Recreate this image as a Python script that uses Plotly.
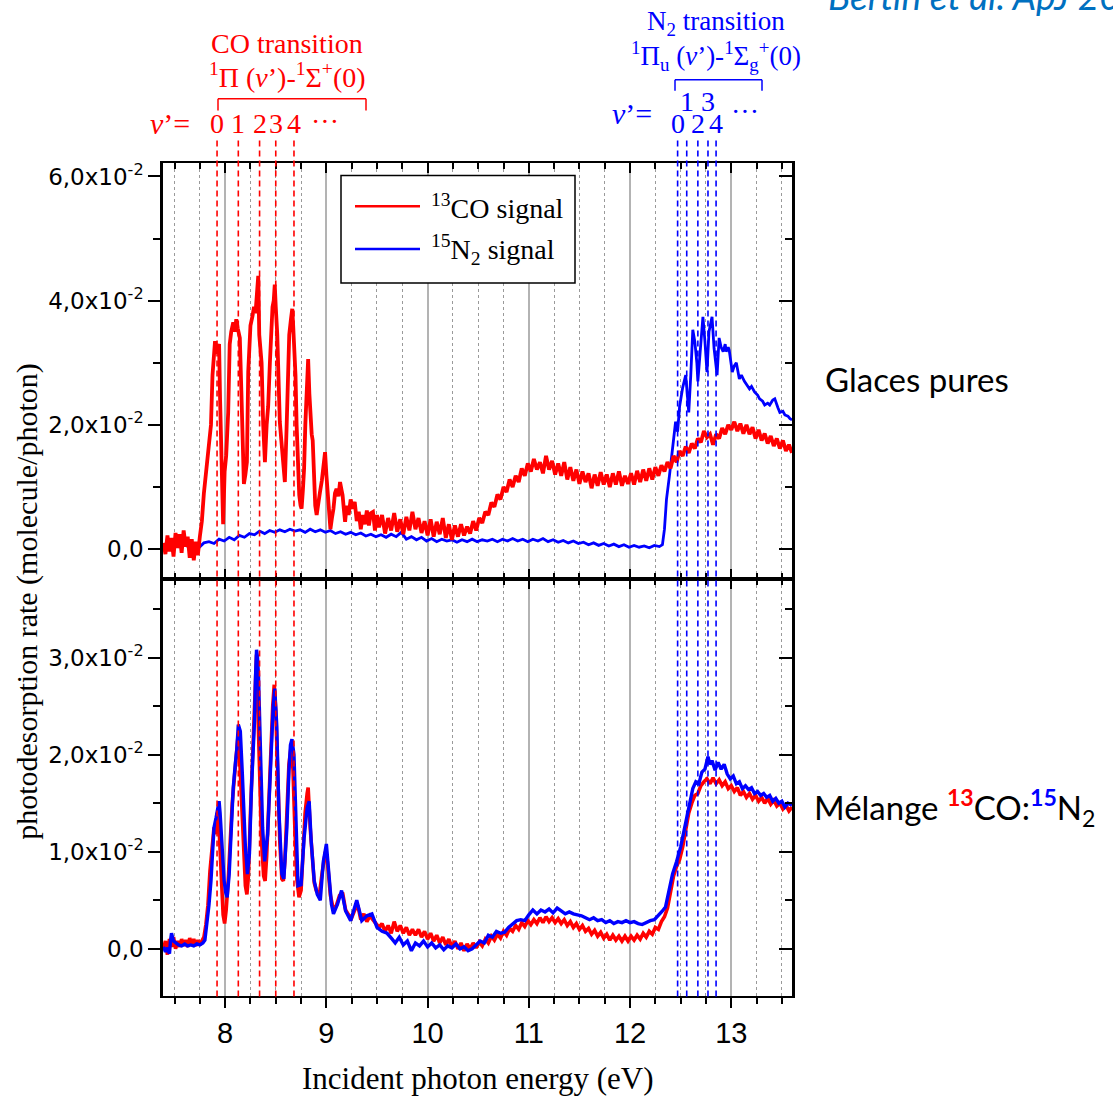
import plotly.graph_objects as go

# ---------------- data: photodesorption rate (molecule/photon) vs photon energy (eV) ----------------
# pure ices, 13CO signal
pure_co = [
    (7.39, 0.0010), (7.41, -0.0008), (7.43, 0.0022), (7.45, -0.0004), (7.47, 0.0018), (7.49, -0.0012),
    (7.51, 0.0026), (7.53, 0.0002), (7.55, 0.0024), (7.57, -0.0006), (7.59, 0.0030), (7.61, 0.0004),
    (7.63, 0.0020), (7.65, -0.0014), (7.67, 0.0016), (7.69, -0.0018), (7.71, 0.0012), (7.73, -0.0010),
    (7.75, 0.0020), (7.77, 0.0045), (7.79, 0.0090), (7.81, 0.0120), (7.83, 0.0150), (7.845, 0.0175),
    (7.86, 0.0200), (7.875, 0.0280), (7.89, 0.0320), (7.90, 0.0335), (7.91, 0.0315), (7.925, 0.0325),
    (7.94, 0.0330), (7.95, 0.0240), (7.965, 0.0100), (7.98, 0.0040), (7.995, 0.0125), (8.01, 0.0150),
    (8.03, 0.0220), (8.045, 0.0330), (8.06, 0.0350), (8.08, 0.0365), (8.095, 0.0350), (8.11, 0.0370),
    (8.125, 0.0355), (8.145, 0.0340), (8.16, 0.0255), (8.175, 0.0150), (8.185, 0.0105), (8.20, 0.0120),
    (8.215, 0.0140), (8.228, 0.0285), (8.25, 0.0360), (8.27, 0.0375), (8.285, 0.0390), (8.30, 0.0380),
    (8.315, 0.0410), (8.327, 0.0440), (8.337, 0.0345), (8.35, 0.0310), (8.36, 0.0300), (8.376, 0.0200),
    (8.385, 0.0150), (8.393, 0.0140), (8.41, 0.0200), (8.425, 0.0230), (8.442, 0.0300), (8.455, 0.0350),
    (8.468, 0.0390), (8.48, 0.0400), (8.49, 0.0426), (8.50, 0.0390), (8.515, 0.0345), (8.53, 0.0260),
    (8.54, 0.0205), (8.555, 0.0175), (8.568, 0.0150), (8.58, 0.0120), (8.59, 0.0108), (8.607, 0.0195),
    (8.62, 0.0280), (8.633, 0.0345), (8.65, 0.0370), (8.663, 0.0387), (8.672, 0.0360), (8.683, 0.0330),
    (8.695, 0.0280), (8.706, 0.0200), (8.72, 0.0120), (8.732, 0.0087), (8.745, 0.0070), (8.755, 0.0065),
    (8.768, 0.0095), (8.78, 0.0130), (8.792, 0.0200), (8.805, 0.0258), (8.82, 0.0306), (8.832, 0.0250),
    (8.845, 0.0200), (8.855, 0.0185), (8.865, 0.0175), (8.88, 0.0100), (8.89, 0.0070), (8.904, 0.0055),
    (8.92, 0.0080), (8.937, 0.0092), (8.955, 0.0110), (8.97, 0.0135), (8.987, 0.0156), (9.00, 0.0120),
    (9.01, 0.0092), (9.025, 0.0060), (9.04, 0.0032), (9.055, 0.0050), (9.07, 0.0065), (9.085, 0.0090),
    (9.10, 0.0097), (9.12, 0.0085), (9.135, 0.0108), (9.15, 0.0095), (9.16, 0.0087), (9.175, 0.0060),
    (9.185, 0.0044), (9.20, 0.0070), (9.22, 0.0055), (9.24, 0.0080), (9.26, 0.0065), (9.28, 0.0076),
    (9.30, 0.0045), (9.32, 0.0060), (9.34, 0.0032), (9.36, 0.0055), (9.38, 0.0040), (9.40, 0.0062),
    (9.42, 0.0038), (9.44, 0.0058), (9.46, 0.0060), (9.48, 0.0030), (9.50, 0.0055), (9.52, 0.0035),
    (9.55, 0.0055), (9.58, 0.0025), (9.61, 0.0050), (9.64, 0.0030), (9.67, 0.0058), (9.70, 0.0028),
    (9.73, 0.0048), (9.76, 0.0024), (9.79, 0.0052), (9.82, 0.0030), (9.85, 0.0060), (9.88, 0.0032),
    (9.91, 0.0050), (9.94, 0.0026), (9.97, 0.0045), (10.00, 0.0022), (10.03, 0.0048), (10.06, 0.0020),
    (10.09, 0.0044), (10.12, 0.0024), (10.15, 0.0050), (10.18, 0.0018), (10.21, 0.0040), (10.24, 0.0015),
    (10.27, 0.0038), (10.30, 0.0020), (10.33, 0.0040), (10.36, 0.0022), (10.39, 0.0036), (10.42, 0.0025),
    (10.45, 0.0045), (10.48, 0.0030), (10.51, 0.0050), (10.54, 0.0042), (10.57, 0.0060), (10.60, 0.0055),
    (10.63, 0.0075), (10.66, 0.0068), (10.69, 0.0088), (10.72, 0.0080), (10.75, 0.0100), (10.78, 0.0092),
    (10.81, 0.0112), (10.84, 0.0100), (10.87, 0.0118), (10.90, 0.0108), (10.93, 0.0130), (10.96, 0.0118),
    (10.99, 0.0138), (11.02, 0.0125), (11.05, 0.0145), (11.08, 0.0128), (11.11, 0.0140), (11.14, 0.0122),
    (11.17, 0.0150), (11.20, 0.0128), (11.23, 0.0142), (11.26, 0.0120), (11.29, 0.0138), (11.32, 0.0118),
    (11.35, 0.0140), (11.38, 0.0112), (11.41, 0.0132), (11.44, 0.0110), (11.47, 0.0128), (11.50, 0.0105),
    (11.53, 0.0125), (11.56, 0.0108), (11.59, 0.0122), (11.62, 0.0098), (11.65, 0.0120), (11.68, 0.0102),
    (11.71, 0.0124), (11.74, 0.0104), (11.77, 0.0120), (11.80, 0.0100), (11.83, 0.0122), (11.86, 0.0104),
    (11.89, 0.0125), (11.92, 0.0102), (11.95, 0.0118), (11.98, 0.0105), (12.01, 0.0122), (12.04, 0.0104),
    (12.07, 0.0126), (12.10, 0.0108), (12.13, 0.0128), (12.16, 0.0110), (12.19, 0.0130), (12.22, 0.0112),
    (12.25, 0.0132), (12.28, 0.0118), (12.31, 0.0135), (12.34, 0.0125), (12.37, 0.0140), (12.40, 0.0130),
    (12.43, 0.0150), (12.46, 0.0140), (12.49, 0.0158), (12.52, 0.0150), (12.55, 0.0165), (12.58, 0.0155),
    (12.61, 0.0170), (12.64, 0.0162), (12.67, 0.0178), (12.70, 0.0172), (12.73, 0.0190), (12.76, 0.0180),
    (12.79, 0.0185), (12.82, 0.0168), (12.85, 0.0185), (12.88, 0.0178), (12.91, 0.0195), (12.94, 0.0185),
    (12.97, 0.0200), (13.00, 0.0192), (13.03, 0.0205), (13.06, 0.0190), (13.09, 0.0202), (13.12, 0.0186),
    (13.15, 0.0200), (13.18, 0.0185), (13.21, 0.0196), (13.24, 0.0178), (13.27, 0.0192), (13.30, 0.0175),
    (13.33, 0.0186), (13.36, 0.0170), (13.39, 0.0182), (13.42, 0.0166), (13.45, 0.0178), (13.48, 0.0162),
    (13.51, 0.0175), (13.54, 0.0158), (13.57, 0.0168), (13.60, 0.0155),
]

# pure ices, 15N2 signal
pure_n2 = [
    (7.39, 0.0005), (7.44, 0.0002), (7.49, 0.0008), (7.54, 0.0004), (7.59, 0.0009), (7.64, 0.0003),
    (7.69, 0.0007), (7.74, 0.0002), (7.79, 0.0010), (7.84, 0.0012), (7.89, 0.0009), (7.94, 0.0016),
    (7.99, 0.0013), (8.04, 0.0019), (8.09, 0.0015), (8.14, 0.0022), (8.19, 0.0019), (8.24, 0.0025),
    (8.29, 0.0023), (8.34, 0.0029), (8.39, 0.0025), (8.44, 0.0030), (8.49, 0.0027), (8.54, 0.0031),
    (8.59, 0.0028), (8.64, 0.0032), (8.69, 0.0029), (8.74, 0.0031), (8.79, 0.0027), (8.84, 0.0032),
    (8.89, 0.0028), (8.94, 0.0031), (8.99, 0.0027), (9.04, 0.0030), (9.09, 0.0025), (9.14, 0.0028),
    (9.19, 0.0024), (9.24, 0.0027), (9.29, 0.0023), (9.34, 0.0026), (9.39, 0.0021), (9.44, 0.0024),
    (9.49, 0.0020), (9.54, 0.0023), (9.59, 0.0019), (9.64, 0.0024), (9.69, 0.0020), (9.74, 0.0027),
    (9.79, 0.0016), (9.84, 0.0020), (9.89, 0.0015), (9.94, 0.0019), (9.99, 0.0013), (10.04, 0.0017),
    (10.09, 0.0012), (10.14, 0.0016), (10.19, 0.0013), (10.24, 0.0015), (10.29, 0.0011), (10.34, 0.0015),
    (10.39, 0.0012), (10.44, 0.0016), (10.49, 0.0012), (10.54, 0.0015), (10.59, 0.0013), (10.64, 0.0016),
    (10.69, 0.0012), (10.74, 0.0016), (10.79, 0.0013), (10.84, 0.0017), (10.89, 0.0013), (10.94, 0.0016),
    (10.99, 0.0012), (11.04, 0.0016), (11.09, 0.0013), (11.14, 0.0017), (11.19, 0.0012), (11.24, 0.0015),
    (11.29, 0.0011), (11.34, 0.0014), (11.39, 0.0010), (11.44, 0.0013), (11.49, 0.0009), (11.54, 0.0011),
    (11.59, 0.0007), (11.64, 0.0010), (11.69, 0.0006), (11.74, 0.0009), (11.79, 0.0005), (11.84, 0.0008),
    (11.89, 0.0004), (11.94, 0.0007), (11.99, 0.0003), (12.04, 0.0006), (12.09, 0.0003), (12.14, 0.0005),
    (12.19, 0.0002), (12.24, 0.0006), (12.29, 0.0004), (12.32, 0.0007), (12.34, 0.0032), (12.36, 0.0080),
    (12.39, 0.0119), (12.41, 0.0150), (12.43, 0.0173), (12.45, 0.0205), (12.47, 0.0189), (12.49, 0.0230),
    (12.52, 0.0260), (12.54, 0.0274), (12.55, 0.0280), (12.57, 0.0240), (12.58, 0.0220), (12.60, 0.0280),
    (12.62, 0.0353), (12.64, 0.0334), (12.66, 0.0300), (12.67, 0.0270), (12.69, 0.0318), (12.72, 0.0374),
    (12.74, 0.0334), (12.76, 0.0285), (12.78, 0.0350), (12.81, 0.0374), (12.83, 0.0323), (12.85, 0.0300),
    (12.86, 0.0280), (12.88, 0.0340), (12.90, 0.0325), (12.92, 0.0318), (12.94, 0.0330), (12.95, 0.0318),
    (12.97, 0.0325), (12.98, 0.0320), (13.01, 0.0285), (13.03, 0.0295), (13.05, 0.0300), (13.08, 0.0274),
    (13.10, 0.0280), (13.13, 0.0270), (13.15, 0.0265), (13.18, 0.0258), (13.20, 0.0262), (13.23, 0.0253),
    (13.26, 0.0248), (13.28, 0.0242), (13.31, 0.0238), (13.33, 0.0232), (13.36, 0.0235), (13.38, 0.0232),
    (13.41, 0.0240), (13.43, 0.0242), (13.46, 0.0228), (13.48, 0.0220), (13.51, 0.0222), (13.53, 0.0216),
    (13.56, 0.0214), (13.58, 0.0210), (13.60, 0.0208),
]

# 13CO:15N2 mixture, 13CO signal
mix_co = [
    (7.39, 0.0000), (7.41, 0.0008), (7.43, -0.0006), (7.45, 0.0010), (7.47, 0.0002), (7.49, 0.0012),
    (7.51, 0.0000), (7.53, 0.0008), (7.55, 0.0002), (7.57, 0.0010), (7.59, 0.0003), (7.61, 0.0009),
    (7.63, 0.0002), (7.65, 0.0011), (7.67, 0.0004), (7.69, 0.0010), (7.71, 0.0003), (7.73, 0.0009),
    (7.75, 0.0004), (7.77, 0.0008), (7.79, 0.0012), (7.81, 0.0025), (7.83, 0.0045), (7.85, 0.0080),
    (7.87, 0.0105), (7.89, 0.0125), (7.905, 0.0118), (7.92, 0.0140), (7.935, 0.0135), (7.95, 0.0105),
    (7.965, 0.0070), (7.98, 0.0035), (7.995, 0.0026), (8.01, 0.0040), (8.03, 0.0070), (8.05, 0.0115),
    (8.07, 0.0150), (8.09, 0.0175), (8.11, 0.0205), (8.125, 0.0217), (8.14, 0.0205), (8.16, 0.0160),
    (8.18, 0.0110), (8.20, 0.0065), (8.215, 0.0056), (8.23, 0.0075), (8.25, 0.0140), (8.27, 0.0200),
    (8.285, 0.0245), (8.30, 0.0290), (8.31, 0.0303), (8.325, 0.0240), (8.34, 0.0180), (8.36, 0.0110),
    (8.38, 0.0075), (8.395, 0.0070), (8.41, 0.0095), (8.43, 0.0150), (8.45, 0.0210), (8.47, 0.0250),
    (8.485, 0.0272), (8.50, 0.0245), (8.52, 0.0180), (8.54, 0.0110), (8.56, 0.0072), (8.575, 0.0070),
    (8.59, 0.0090), (8.61, 0.0140), (8.63, 0.0190), (8.65, 0.0207), (8.67, 0.0185), (8.69, 0.0120),
    (8.71, 0.0070), (8.73, 0.0053), (8.75, 0.0060), (8.77, 0.0100), (8.79, 0.0140), (8.81, 0.0160),
    (8.82, 0.0166), (8.84, 0.0125), (8.86, 0.0090), (8.88, 0.0068), (8.90, 0.0060), (8.93, 0.0055),
    (8.96, 0.0080), (8.99, 0.0100), (9.01, 0.0090), (9.04, 0.0055), (9.07, 0.0040), (9.10, 0.0045),
    (9.13, 0.0055), (9.16, 0.0058), (9.19, 0.0040), (9.22, 0.0035), (9.25, 0.0032), (9.28, 0.0040),
    (9.31, 0.0045), (9.34, 0.0030), (9.37, 0.0036), (9.40, 0.0028), (9.43, 0.0034), (9.46, 0.0030),
    (9.49, 0.0025), (9.52, 0.0022), (9.55, 0.0026), (9.58, 0.0018), (9.61, 0.0024), (9.64, 0.0016),
    (9.67, 0.0028), (9.70, 0.0018), (9.73, 0.0024), (9.76, 0.0016), (9.79, 0.0022), (9.82, 0.0014),
    (9.85, 0.0020), (9.88, 0.0014), (9.91, 0.0020), (9.94, 0.0012), (9.97, 0.0018), (10.00, 0.0010),
    (10.03, 0.0016), (10.06, 0.0008), (10.09, 0.0014), (10.12, 0.0006), (10.15, 0.0012), (10.18, 0.0004),
    (10.21, 0.0010), (10.24, 0.0002), (10.27, 0.0008), (10.30, 0.0000), (10.33, 0.0006), (10.36, -0.0002),
    (10.39, 0.0005), (10.42, 0.0000), (10.45, 0.0006), (10.48, 0.0001), (10.51, 0.0007), (10.54, 0.0003),
    (10.57, 0.0010), (10.60, 0.0006), (10.63, 0.0013), (10.66, 0.0009), (10.69, 0.0015), (10.72, 0.0011),
    (10.75, 0.0018), (10.78, 0.0014), (10.81, 0.0021), (10.84, 0.0018), (10.87, 0.0024), (10.90, 0.0020),
    (10.93, 0.0027), (10.96, 0.0023), (10.99, 0.0029), (11.02, 0.0025), (11.05, 0.0030), (11.08, 0.0026),
    (11.11, 0.0032), (11.14, 0.0027), (11.17, 0.0033), (11.20, 0.0028), (11.23, 0.0032), (11.26, 0.0027),
    (11.29, 0.0031), (11.32, 0.0026), (11.35, 0.0030), (11.38, 0.0024), (11.41, 0.0028), (11.44, 0.0022),
    (11.47, 0.0026), (11.50, 0.0020), (11.53, 0.0024), (11.56, 0.0018), (11.59, 0.0021), (11.62, 0.0015),
    (11.65, 0.0019), (11.68, 0.0013), (11.71, 0.0017), (11.74, 0.0011), (11.77, 0.0015), (11.80, 0.0009),
    (11.83, 0.0014), (11.86, 0.0009), (11.89, 0.0013), (11.92, 0.0008), (11.95, 0.0013), (11.98, 0.0008),
    (12.01, 0.0013), (12.04, 0.0009), (12.07, 0.0014), (12.10, 0.0010), (12.13, 0.0016), (12.16, 0.0012),
    (12.19, 0.0018), (12.22, 0.0015), (12.25, 0.0022), (12.28, 0.0020), (12.31, 0.0028), (12.34, 0.0033),
    (12.37, 0.0042), (12.40, 0.0058), (12.43, 0.0075), (12.46, 0.0085), (12.49, 0.0092), (12.52, 0.0105),
    (12.55, 0.0125), (12.58, 0.0140), (12.61, 0.0150), (12.64, 0.0158), (12.67, 0.0160), (12.70, 0.0168),
    (12.73, 0.0172), (12.76, 0.0175), (12.79, 0.0170), (12.82, 0.0176), (12.85, 0.0170), (12.88, 0.0174),
    (12.91, 0.0168), (12.94, 0.0172), (12.97, 0.0165), (13.00, 0.0168), (13.03, 0.0162), (13.06, 0.0166),
    (13.09, 0.0158), (13.12, 0.0162), (13.15, 0.0156), (13.18, 0.0160), (13.21, 0.0154), (13.24, 0.0158),
    (13.27, 0.0152), (13.30, 0.0156), (13.33, 0.0150), (13.36, 0.0155), (13.39, 0.0149), (13.42, 0.0153),
    (13.45, 0.0147), (13.48, 0.0150), (13.51, 0.0144), (13.54, 0.0148), (13.57, 0.0142), (13.60, 0.0146),
]

# 13CO:15N2 mixture, 15N2 signal
mix_n2 = [
    (7.39, 0.0002), (7.41, -0.0003), (7.43, 0.0001), (7.45, -0.0005), (7.46, 0.0008), (7.47, 0.0016),
    (7.49, 0.0008), (7.51, 0.0006), (7.54, 0.0004), (7.57, 0.0003), (7.60, 0.0005), (7.63, 0.0003),
    (7.66, 0.0004), (7.69, 0.0003), (7.72, 0.0005), (7.75, 0.0004), (7.78, 0.0006), (7.80, 0.0009),
    (7.82, 0.0025), (7.84, 0.0045), (7.86, 0.0070), (7.875, 0.0100), (7.89, 0.0125), (7.91, 0.0135),
    (7.925, 0.0145), (7.94, 0.0152), (7.95, 0.0140), (7.96, 0.0118), (7.975, 0.0090), (7.99, 0.0070),
    (8.005, 0.0058), (8.02, 0.0053), (8.04, 0.0077), (8.06, 0.0125), (8.08, 0.0166), (8.10, 0.0190),
    (8.115, 0.0205), (8.13, 0.0231), (8.15, 0.0224), (8.17, 0.0180), (8.185, 0.0140), (8.20, 0.0105),
    (8.22, 0.0077), (8.24, 0.0098), (8.26, 0.0166), (8.28, 0.0210), (8.29, 0.0234), (8.30, 0.0280),
    (8.31, 0.0308), (8.32, 0.0300), (8.33, 0.0280), (8.35, 0.0200), (8.37, 0.0125), (8.39, 0.0090),
    (8.42, 0.0118), (8.44, 0.0166), (8.46, 0.0224), (8.475, 0.0250), (8.49, 0.0268), (8.51, 0.0230),
    (8.53, 0.0145), (8.55, 0.0090), (8.56, 0.0077), (8.58, 0.0072), (8.61, 0.0125), (8.63, 0.0183),
    (8.645, 0.0210), (8.66, 0.0216), (8.68, 0.0200), (8.70, 0.0132), (8.72, 0.0065), (8.75, 0.0066),
    (8.78, 0.0114), (8.81, 0.0145), (8.83, 0.0152), (8.85, 0.0111), (8.88, 0.0070), (8.91, 0.0056),
    (8.94, 0.0050), (8.97, 0.0090), (9.00, 0.0108), (9.02, 0.0083), (9.05, 0.0046), (9.07, 0.0036),
    (9.11, 0.0046), (9.15, 0.0060), (9.19, 0.0039), (9.24, 0.0029), (9.30, 0.0050), (9.35, 0.0029),
    (9.40, 0.0034), (9.45, 0.0036), (9.50, 0.0022), (9.55, 0.0018), (9.60, 0.0016), (9.65, 0.0010),
    (9.68, 0.0006), (9.72, 0.0012), (9.76, 0.0004), (9.80, 0.0008), (9.84, -0.0002), (9.88, 0.0006),
    (9.92, 0.0003), (9.96, 0.0008), (10.00, 0.0002), (10.04, 0.0006), (10.08, 0.0001), (10.12, 0.0004),
    (10.16, -0.0001), (10.20, 0.0003), (10.24, 0.0001), (10.28, 0.0005), (10.32, 0.0000), (10.36, 0.0002),
    (10.40, -0.0002), (10.44, 0.0000), (10.48, 0.0004), (10.52, 0.0008), (10.56, 0.0006), (10.60, 0.0014),
    (10.64, 0.0012), (10.68, 0.0018), (10.72, 0.0016), (10.76, 0.0017), (10.80, 0.0022), (10.84, 0.0026),
    (10.88, 0.0029), (10.92, 0.0030), (10.96, 0.0029), (11.00, 0.0035), (11.04, 0.0040), (11.08, 0.0036),
    (11.12, 0.0040), (11.16, 0.0038), (11.20, 0.0041), (11.24, 0.0037), (11.28, 0.0042), (11.32, 0.0039),
    (11.36, 0.0036), (11.40, 0.0038), (11.44, 0.0036), (11.48, 0.0035), (11.52, 0.0034), (11.56, 0.0032),
    (11.60, 0.0030), (11.64, 0.0032), (11.68, 0.0029), (11.72, 0.0030), (11.76, 0.0027), (11.80, 0.0029),
    (11.84, 0.0026), (11.88, 0.0028), (11.92, 0.0027), (11.96, 0.0029), (12.00, 0.0027), (12.04, 0.0028),
    (12.08, 0.0026), (12.12, 0.0025), (12.16, 0.0027), (12.20, 0.0029), (12.24, 0.0030), (12.28, 0.0034),
    (12.32, 0.0039), (12.35, 0.0043), (12.38, 0.0056), (12.42, 0.0077), (12.46, 0.0090), (12.50, 0.0105),
    (12.53, 0.0120), (12.56, 0.0135), (12.59, 0.0150), (12.62, 0.0165), (12.65, 0.0172), (12.68, 0.0170),
    (12.71, 0.0182), (12.74, 0.0185), (12.77, 0.0198), (12.79, 0.0190), (12.81, 0.0194), (12.84, 0.0184),
    (12.87, 0.0192), (12.90, 0.0185), (12.93, 0.0190), (12.96, 0.0180), (12.99, 0.0175), (13.02, 0.0178),
    (13.05, 0.0170), (13.08, 0.0172), (13.11, 0.0165), (13.14, 0.0168), (13.17, 0.0164), (13.20, 0.0166),
    (13.23, 0.0160), (13.26, 0.0162), (13.29, 0.0158), (13.32, 0.0160), (13.35, 0.0156), (13.38, 0.0158),
    (13.41, 0.0152), (13.44, 0.0155), (13.47, 0.0150), (13.50, 0.0152), (13.53, 0.0146), (13.56, 0.0150),
    (13.60, 0.0148),
]

# vibrational levels v' of the excited states (eV)
co_levels = [7.92, 8.13, 8.34, 8.50, 8.68]
n2_levels = [12.47, 12.56, 12.67, 12.77, 12.85]
level_labels = ["0", "1", "2", "3", "4"]

# axis ticks
x_range = [7.386, 13.60]
top_range = [-0.0048, 0.0621]
top_ticks = [0.0, 0.02, 0.04, 0.06]
top_minor = [0.01, 0.03, 0.05]
bot_range = [-0.0049, 0.0381]
bot_ticks = [0.0, 0.01, 0.02, 0.03]
bot_minor = [0.005, 0.015, 0.025, 0.035]


def sci_label(v):
    if v == 0:
        return "0,0"
    return f"{v * 100:.1f}".replace(".", ",") + "x10<sup>-2</sup>"


RED = "#ff0000"
BLUE = "#0000ff"
SERIF = "Liberation Serif"
SANS = "Liberation Sans"
W, H = 1113, 1102


def px(x):
    return x / W


def py(y):
    return 1 - y / H


def xy(series):
    return [p[0] for p in series], [p[1] for p in series]


fig = go.Figure()

# top panel: pure ices (red drawn over blue)
ex, ev = xy(pure_n2)
fig.add_trace(go.Scatter(x=ex, y=ev, mode="lines", line=dict(color=BLUE, width=2.8),
                         xaxis="x", yaxis="y", showlegend=False))
ex, ev = xy(pure_co)
fig.add_trace(go.Scatter(x=ex, y=ev, mode="lines", line=dict(color=RED, width=3.8),
                         xaxis="x", yaxis="y", showlegend=False))
# bottom panel: mixture (blue drawn over red)
ex, ev = xy(mix_co)
fig.add_trace(go.Scatter(x=ex, y=ev, mode="lines", line=dict(color=RED, width=3.6),
                         xaxis="x2", yaxis="y2", showlegend=False))
ex, ev = xy(mix_n2)
fig.add_trace(go.Scatter(x=ex, y=ev, mode="lines", line=dict(color=BLUE, width=3.4),
                         xaxis="x2", yaxis="y2", showlegend=False))
# empty traces holding the inward-tick frame axes
fig.add_trace(go.Scatter(x=[], y=[], xaxis="x3", yaxis="y3", showlegend=False))
fig.add_trace(go.Scatter(x=[], y=[], xaxis="x4", yaxis="y4", showlegend=False))

xdom = [px(163), px(792)]
top_dom = [py(577), py(160)]
bot_dom = [py(996), py(577)]

grid_x = dict(
    range=x_range, tickmode="linear", tick0=0, dtick=1,
    showgrid=True, gridcolor="#b3b3b3", gridwidth=1.5,
    showline=True, linecolor="black", linewidth=2, mirror=True, zeroline=False,
    tickcolor="black", tickwidth=2, ticklen=10,
)
minor_x = dict(tick0=0, dtick=0.25, ticklen=6, tickwidth=2, tickcolor="black",
               showgrid=True, gridcolor="#9a9a9a", griddash="dot", gridwidth=1)

frame_x = dict(range=x_range, tickmode="linear", tick0=0, dtick=1, ticks="inside",
               ticklen=10, tickwidth=2, tickcolor="black", showticklabels=False,
               showgrid=False, zeroline=False, showline=False,
               minor=dict(tick0=0, dtick=0.25, ticks="inside", ticklen=6, tickwidth=2,
                          tickcolor="black", showgrid=False))


def y_main(rng, ticks, minor, dom, anchor):
    return dict(
        domain=dom, anchor=anchor, range=rng, tickmode="array", tickvals=ticks,
        ticktext=[sci_label(v) for v in ticks], ticks="outside", ticklen=12, tickwidth=2,
        tickcolor="black", showgrid=False, zeroline=False, showline=True, linecolor="black",
        linewidth=2.5, mirror=True,
        tickfont=dict(family="DejaVu Sans", size=23, color="black"),
        minor=dict(tickmode="array", tickvals=minor, ticks="outside", ticklen=7, tickwidth=2,
                   tickcolor="black", showgrid=False),
    )


def y_frame(rng, ticks, minor, over, anchor):
    return dict(
        overlaying=over, anchor=anchor, side="right", range=rng, tickmode="array",
        tickvals=ticks, ticks="inside", ticklen=13, tickwidth=2, tickcolor="black",
        showticklabels=False, showgrid=False, zeroline=False, showline=False,
        minor=dict(tickmode="array", tickvals=minor, ticks="inside", ticklen=7, tickwidth=2,
                   tickcolor="black", showgrid=False),
    )


fig.update_layout(
    width=W, height=H, margin=dict(l=0, r=0, t=0, b=0),
    paper_bgcolor="white", plot_bgcolor="white", showlegend=False,
    xaxis=dict(domain=xdom, anchor="y", ticks="inside", showticklabels=False,
               minor=dict(ticks="inside", **minor_x), **grid_x),
    yaxis=y_main(top_range, top_ticks, top_minor, top_dom, "x"),
    xaxis2=dict(domain=xdom, anchor="y2", ticks="outside", showticklabels=True,
                tickfont=dict(family="Liberation Sans Narrow, Liberation Sans", size=29, color="black"),
                minor=dict(ticks="outside", **minor_x), **grid_x),
    yaxis2=y_main(bot_range, bot_ticks, bot_minor, bot_dom, "x2"),
    xaxis3=dict(overlaying="x", anchor="y", side="top", **frame_x),
    yaxis3=y_frame(top_range, top_ticks, top_minor, "y", "x"),
    xaxis4=dict(overlaying="x2", anchor="y2", side="top", **frame_x),
    yaxis4=y_frame(bot_range, bot_ticks, bot_minor, "y2", "x2"),
)

shapes = []
annotations = []

# dashed markers of the vibrational levels, across both panels
for e in co_levels:
    shapes.append(dict(type="line", xref="x", yref="paper", x0=e, x1=e, y0=py(996), y1=py(133),
                       line=dict(color=RED, width=1.6, dash="6px,4px"), layer="above"))
for e in n2_levels:
    shapes.append(dict(type="line", xref="x", yref="paper", x0=e, x1=e, y0=py(996), y1=py(134),
                       line=dict(color=BLUE, width=1.6, dash="6px,4px"), layer="above"))

# CO transition header
annotations += [
    dict(text="CO transition", x=px(287), y=py(40), font=dict(family=SERIF, size=28, color=RED)),
    dict(text="<sup>1</sup>Π (<i>v</i>’)-<sup>1</sup>Σ<sup>+</sup>(0)", x=px(287), y=py(72),
         font=dict(family=SERIF, size=28, color=RED)),
    dict(text="<i>v</i>’=", x=px(170), y=py(120), font=dict(family=SERIF, size=30, color=RED)),
    dict(text="···", x=px(325), y=py(118), font=dict(family=SERIF, size=28, color=RED)),
]
for e, lab in zip(co_levels, level_labels):
    annotations.append(dict(text=lab, x=e, xref="x", y=py(120),
                            font=dict(family=SERIF, size=28, color=RED)))
for seg in [(218, 95, 366, 95), (218, 95, 218, 107), (366, 95, 366, 107)]:
    shapes.append(dict(type="line", xref="paper", yref="paper", x0=px(seg[0]), y0=py(seg[1]),
                       x1=px(seg[2]), y1=py(seg[3]), line=dict(color=RED, width=1.5)))

# N2 transition header
annotations += [
    dict(text="N<sub>2</sub> transition", x=px(716), y=py(19), font=dict(family=SERIF, size=27, color=BLUE)),
    dict(text="<sup>1</sup>Π<sub>u</sub> (<i>v</i>’)-<sup>1</sup>Σ<sub>g</sub><sup>+</sup>(0)", x=px(716),
         y=py(52), font=dict(family=SERIF, size=27, color=BLUE)),
    dict(text="<i>v</i>’=", x=px(632), y=py(110), font=dict(family=SERIF, size=30, color=BLUE)),
    dict(text="···", x=px(745), y=py(108), font=dict(family=SERIF, size=28, color=BLUE)),
]
for i, (e, lab) in enumerate(zip(n2_levels, level_labels)):
    annotations.append(dict(text=lab, x=e, xref="x", y=py(120 if i % 2 == 0 else 98),
                            font=dict(family=SERIF, size=28, color=BLUE)))
for seg in [(675, 76, 762, 76), (675, 76, 675, 87), (762, 76, 762, 87)]:
    shapes.append(dict(type="line", xref="paper", yref="paper", x0=px(seg[0]), y0=py(seg[1]),
                       x1=px(seg[2]), y1=py(seg[3]), line=dict(color=BLUE, width=1.5)))

# legend box
shapes.append(dict(type="rect", xref="paper", yref="paper", x0=px(341), x1=px(575), y0=py(280),
                   y1=py(172), line=dict(color="black", width=1.5), fillcolor="white", layer="above"))
shapes.append(dict(type="line", xref="paper", yref="paper", x0=px(355), x1=px(420), y0=py(203),
                   y1=py(203), line=dict(color=RED, width=2.5), layer="above"))
shapes.append(dict(type="line", xref="paper", yref="paper", x0=px(355), x1=px(420), y0=py(246),
                   y1=py(246), line=dict(color=BLUE, width=2.5), layer="above"))
annotations += [
    dict(text="<sup>13</sup>CO signal", x=px(429), y=py(203), xanchor="left",
         font=dict(family=SERIF, size=28, color="black")),
    dict(text="<sup>15</sup>N<sub>2</sub> signal", x=px(429), y=py(246), xanchor="left",
         font=dict(family=SERIF, size=28, color="black")),
]

# axis titles
annotations += [
    dict(text="Incident photon energy (eV)", x=px(478), y=py(1078),
         font=dict(family=SERIF, size=31, color="black")),
    dict(text="photodesorption rate (molecule/photon)", x=px(27), y=py(600), textangle=-90,
         font=dict(family=SERIF, size=30, color="black")),
]

# panel labels and reference
annotations += [
    dict(text="Glaces pures", x=px(823), y=py(376), xanchor="left",
         font=dict(family="Lato", size=33, color="black")),
    dict(text="Mélange <sup><b><span style='color:#ff0000'>13</span></b></sup>CO:"
              "<sup><b><span style='color:#0000ff'>15</span></b></sup>N<sub>2</sub>",
         x=px(812), y=py(806), xanchor="left", font=dict(family="Lato", size=33, color="black")),
    dict(text="<i>Bertin et al. ApJ 2013</i>", x=px(826), y=py(-9), xanchor="left",
         font=dict(family="Lato", size=37, color="#0070c0")),
]

for a in annotations:
    a.setdefault("xref", "paper")
    a.setdefault("yref", "paper")
    a.setdefault("xanchor", "center")
    a.setdefault("yanchor", "middle")
    a.setdefault("showarrow", False)

fig.update_layout(shapes=shapes, annotations=annotations)
fig.write_html("out.html")
